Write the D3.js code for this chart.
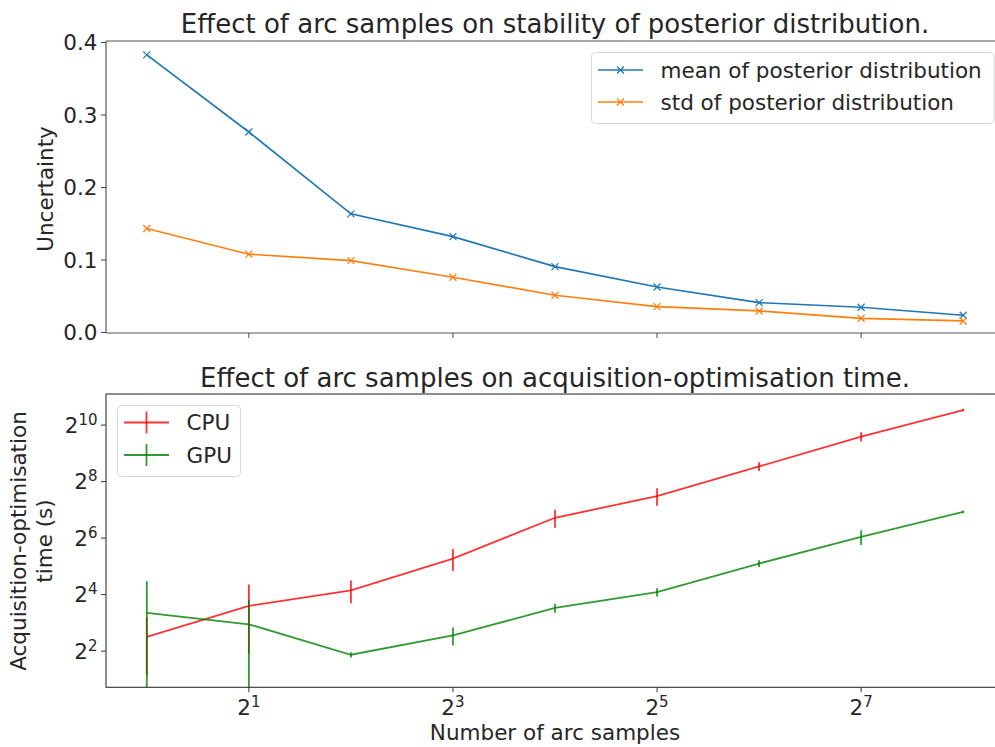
<!DOCTYPE html>
<html><head><meta charset="utf-8">
<script src="https://cdn.jsdelivr.net/npm/d3@7"></script>
<style>body{margin:0;background:#fff;overflow:hidden}text{font-family:"DejaVu Sans",sans-serif;fill:#262626}</style>
</head><body><svg id="c" width="995" height="747"></svg>
<script>
// ---- data ----
const arcSamples = [1, 2, 4, 8, 16, 32, 64, 128, 256];
const meanPosterior = [0.383, 0.2765, 0.1637, 0.1323, 0.0909, 0.0628, 0.0412, 0.0348, 0.0238];
const stdPosterior  = [0.1434, 0.108, 0.0992, 0.0762, 0.0514, 0.0356, 0.0297, 0.0196, 0.0159];
const cpuTime = [5.68, 12.13, 17.8, 38.75, 105.4, 179.5, 371.5, 772.8, 1475];
const cpuErr  = [3.47, 8.37, 4.85, 10.2, 22.8, 37.7, 40, 88, 50];
const gpuTime = [10.2, 7.73, 3.66, 5.88, 11.55, 16.97, 34.3, 65.8, 122];
const gpuErr  = [12.0, 6.46, 0.24, 1.28, 1.27, 1.73, 2.85, 11.6, 4];
const xTickExps = [1, 3, 5, 7];
const topYTicks = [0.0, 0.1, 0.2, 0.3, 0.4];
const botYTickExps = [2, 4, 6, 8, 10];
const topTitle = "Effect of arc samples on stability of posterior distribution.";
const botTitle = "Effect of arc samples on acquisition-optimisation time.";
const topSeriesNames = ["mean of posterior distribution", "std of posterior distribution"];
const botSeriesNames = ["CPU", "GPU"];

const FS = 21.5, TFS = 26, EFS = 15;
const svg = d3.select("#c");
const L = 106, R = 1004;
const x = d3.scaleLog().base(2).domain([Math.pow(2,-0.4), Math.pow(2,8.4)]).range([L, R]);

// ---------- TOP ----------
const tTop = 41, tBot = 333;
const yT = d3.scaleLinear().domain([0, 0.4]).range([332.5, 42.5]);
const gT = svg.append("g");
const colorsT = ["#1f77b4", "#ff7f0e"];
[meanPosterior, stdPosterior].forEach((s, i) => {
  const pts = arcSamples.map((a, j) => [x(a), yT(s[j])]);
  gT.append("path").attr("d", d3.line()(pts)).attr("fill","none").attr("stroke", colorsT[i]).attr("stroke-width", 1.7);
  pts.forEach(p => {
    gT.append("path").attr("d", `M${p[0]-3.5},${p[1]-3.5}L${p[0]+3.5},${p[1]+3.5}M${p[0]-3.5},${p[1]+3.5}L${p[0]+3.5},${p[1]-3.5}`)
      .attr("stroke", colorsT[i]).attr("stroke-width", 1.2);
  });
});
gT.append("line").attr("x1", L).attr("x2", R).attr("y1", tTop).attr("y2", tTop).attr("stroke","#555").attr("stroke-width",1.2);
gT.append("line").attr("x1", L).attr("x2", R).attr("y1", tBot).attr("y2", tBot).attr("stroke","#555").attr("stroke-width",1.2);
gT.append("line").attr("x1", L).attr("x2", L).attr("y1", tTop).attr("y2", tBot).attr("stroke","#555").attr("stroke-width",1.2);
topYTicks.forEach(v => {
  gT.append("line").attr("x1", L-5).attr("x2", L).attr("y1", yT(v)).attr("y2", yT(v)).attr("stroke","#444");
  gT.append("text").attr("x", L-8.5).attr("y", yT(v)).attr("dy","0.36em").attr("text-anchor","end").attr("font-size",FS).text(v.toFixed(1));
});
xTickExps.forEach(e => {
  gT.append("line").attr("x1", x(Math.pow(2,e))).attr("x2", x(Math.pow(2,e))).attr("y1", tBot).attr("y2", tBot+5).attr("stroke","#444");
});
gT.append("text").attr("x", (L+R)/2).attr("y", 33.3).attr("text-anchor","middle").attr("font-size",TFS).text(topTitle);
gT.append("text").attr("transform","translate(52.5,189) rotate(-90)").attr("text-anchor","middle").attr("font-size",FS).text("Uncertainty");
const lgT = gT.append("g");
lgT.append("rect").attr("x",591.5).attr("y",52.5).attr("width",402.5).attr("height",71).attr("rx",4)
  .attr("fill","#fff").attr("fill-opacity",0.8).attr("stroke","#d8d8d8");
topSeriesNames.forEach((n, i) => {
  const yy = 70 + i*32;
  lgT.append("line").attr("x1",598).attr("x2",643).attr("y1",yy).attr("y2",yy).attr("stroke",colorsT[i]).attr("stroke-width",1.7);
  lgT.append("path").attr("d", `M617,${yy-3.5}L624,${yy+3.5}M617,${yy+3.5}L624,${yy-3.5}`).attr("stroke",colorsT[i]).attr("stroke-width",1.2);
  lgT.append("text").attr("x",660.5).attr("y",yy).attr("dy","0.36em").attr("font-size",FS).text(n);
});

// ---------- BOTTOM ----------
const bTop = 394, bBot = 687.3;
const yB = d3.scaleLog().base(2).domain([Math.pow(2,0.72), Math.pow(2,11.1)]).range([bBot, bTop]);
svg.append("clipPath").attr("id","cb").append("rect").attr("x",L).attr("y",bTop).attr("width",R-L).attr("height",bBot-bTop);
const gB = svg.append("g");
const gData = gB.append("g").attr("clip-path","url(#cb)");
const colorsB = ["#ff0000", "#008000"];
[[cpuTime, cpuErr], [gpuTime, gpuErr]].forEach(([v, e], i) => {
  const pts = arcSamples.map((a, j) => [x(a), yB(v[j])]);
  gData.append("path").attr("d", d3.line()(pts)).attr("fill","none").attr("stroke", colorsB[i]).attr("stroke-opacity",0.8).attr("stroke-width",1.8);
  arcSamples.forEach((a, j) => {
    const lo = v[j] - e[j];
    const y1 = lo > 0 ? yB(lo) : bBot + 10;
    gData.append("line").attr("x1", x(a)).attr("x2", x(a)).attr("y1", yB(v[j]+e[j])).attr("y2", y1)
      .attr("stroke", colorsB[i]).attr("stroke-opacity",0.8).attr("stroke-width",1.8);
  });
});
gB.append("rect").attr("x",L).attr("y",bTop).attr("width",R-L).attr("height",bBot-bTop).attr("fill","none").attr("stroke","#333").attr("stroke-width",1.1);
botYTickExps.forEach(e => {
  const yy = yB(Math.pow(2,e));
  gB.append("line").attr("x1", L-5).attr("x2", L).attr("y1", yy).attr("y2", yy).attr("stroke","#333");
  const t = gB.append("text").attr("x", L-8.5).attr("y", yy).attr("dy","0.36em").attr("text-anchor","end").attr("font-size",FS);
  t.append("tspan").text("2");
  t.append("tspan").attr("dy","-0.55em").attr("font-size",EFS).text(e);
});
xTickExps.forEach(e => {
  const xx = x(Math.pow(2,e));
  gB.append("line").attr("x1", xx).attr("x2", xx).attr("y1", bBot).attr("y2", bBot+5).attr("stroke","#333");
  const t = gB.append("text").attr("x", xx).attr("y", 715).attr("text-anchor","middle").attr("font-size",FS);
  t.append("tspan").text("2");
  t.append("tspan").attr("dy","-0.55em").attr("font-size",EFS).text(e);
});
gB.append("text").attr("x", (L+R)/2).attr("y", 386.7).attr("text-anchor","middle").attr("font-size",TFS).text(botTitle);
gB.append("text").attr("x", 555).attr("y", 740).attr("text-anchor","middle").attr("font-size",FS).text("Number of arc samples");
const yl = gB.append("text").attr("transform","translate(0,541) rotate(-90)").attr("text-anchor","middle").attr("font-size",FS);
yl.append("tspan").attr("x",0).attr("y",26).text("Acquisition-optimisation");
yl.append("tspan").attr("x",0).attr("y",51.5).text("time (s)");
const lgB = gB.append("g");
lgB.append("rect").attr("x",117.5).attr("y",405.5).attr("width",123).attr("height",71).attr("rx",4)
  .attr("fill","#fff").attr("fill-opacity",0.8).attr("stroke","#d8d8d8");
botSeriesNames.forEach((n, i) => {
  const yy = 422.5 + i*32.5;
  lgB.append("line").attr("x1",124).attr("x2",169).attr("y1",yy).attr("y2",yy).attr("stroke",colorsB[i]).attr("stroke-opacity",0.8).attr("stroke-width",1.8);
  lgB.append("line").attr("x1",146.5).attr("x2",146.5).attr("y1",yy-11).attr("y2",yy+11).attr("stroke",colorsB[i]).attr("stroke-opacity",0.8).attr("stroke-width",1.8);
  lgB.append("text").attr("x",186.5).attr("y",yy).attr("dy","0.36em").attr("font-size",FS).text(n);
});
</script></body></html>
